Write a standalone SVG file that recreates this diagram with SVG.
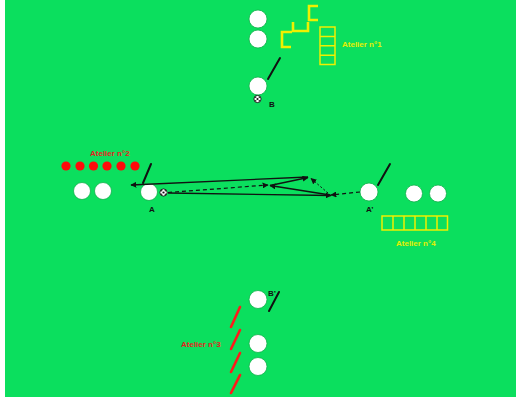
<svg xmlns="http://www.w3.org/2000/svg" width="516" height="399" viewBox="0 0 516 399">
<defs>
<style>
.bg{fill:#0bdf5e}
.pl{fill:#fff;stroke:#11b04a;stroke-width:0.8}
.pole{stroke:#111;stroke-width:2;stroke-linecap:round}
.ylw{fill:none;stroke:#f0f000;stroke-width:2.6}
.lad{fill:none;stroke:#f0f000;stroke-width:1.5}
.t{font-family:"Liberation Sans",Arial,sans-serif;font-weight:bold;font-size:8px}
.ty{fill:#e6ef00}
.tr{fill:#e41e1e}
.tk{fill:#111}
.rd{fill:#ff0a0a}
.rs{stroke:#ff1a1a;stroke-width:2.6;stroke-linecap:round}
.sol{stroke:#111;stroke-width:1.3;fill:none}
.dsh{stroke:#111;stroke-width:1.2;fill:none;stroke-dasharray:4 3}
.dot{stroke:#111;stroke-width:1;fill:none;stroke-dasharray:2 2}
</style>
<marker id="ah" viewBox="0 0 10 10" refX="9" refY="5" markerWidth="6" markerHeight="6" markerUnits="userSpaceOnUse" orient="auto">
<path d="M0,0 L10,5 L0,10 z" fill="#111"/>
</marker>
<g id="ballsym">
<circle r="3.6" fill="#fff" stroke="#111" stroke-width="0.9"/>
<circle r="1.1" fill="#111"/>
<circle cx="-1.8" cy="-1.8" r="0.7" fill="#111"/>
<circle cx="1.8" cy="-1.8" r="0.7" fill="#111"/>
<circle cx="-1.8" cy="1.8" r="0.7" fill="#111"/>
<circle cx="1.8" cy="1.8" r="0.7" fill="#111"/>
</g>
</defs>
<rect x="0" y="0" width="516" height="399" fill="#fff"/>
<rect class="bg" x="5" y="0" width="511" height="397"/>

<g id="atelier1">
<circle class="pl" cx="258" cy="19" r="9"/>
<circle class="pl" cx="258" cy="39" r="9"/>
<path class="ylw" d="M318,6 H309 V20 H318 M293,22 V31 H308 V22 M291,47 H282 V32 H292"/>
<rect class="lad" x="320" y="27" width="15" height="37.5"/>
<path class="lad" d="M320,36.4 H335 M320,45.8 H335 M320,55.2 H335"/>
<text class="t ty" x="342" y="47">Atelier n°1</text>
</g>

<g id="playerB">
<circle class="pl" cx="258" cy="86" r="9"/>
<line class="pole" x1="280" y1="58" x2="268" y2="79"/>
<use href="#ballsym" x="257.5" y="99"/>
<text class="t tk" x="269" y="107">B</text>
</g>

<g id="atelier2">
<text class="t tr" x="90" y="156">Atelier n°2</text>
<circle class="rd" cx="66" cy="166" r="4.6"/>
<circle class="rd" cx="80" cy="166" r="4.6"/>
<circle class="rd" cx="93.5" cy="166" r="4.6"/>
<circle class="rd" cx="107" cy="166" r="4.6"/>
<circle class="rd" cx="121" cy="166" r="4.6"/>
<circle class="rd" cx="135" cy="166" r="4.6"/>
<circle class="pl" cx="82" cy="191" r="8.5"/>
<circle class="pl" cx="103" cy="191" r="8.5"/>
</g>

<g id="playerA">
<circle class="pl" cx="149" cy="192" r="8.5"/>
<line class="pole" x1="151" y1="164" x2="143" y2="183"/>
<use href="#ballsym" x="163.5" y="192.5"/>
<text class="t tk" x="149" y="212">A</text>
</g>

<g id="playerA2">
<circle class="pl" cx="369" cy="192" r="9"/>
<line class="pole" x1="390" y1="164" x2="378" y2="185"/>
<text class="t tk" x="366" y="212">A’</text>
</g>

<g id="atelier4">
<circle class="pl" cx="414" cy="193.5" r="8.5"/>
<circle class="pl" cx="438" cy="193.5" r="8.5"/>
<rect class="lad" x="382" y="216" width="65.5" height="14"/>
<path class="lad" d="M393,216 V230 M404,216 V230 M415,216 V230 M426,216 V230 M437,216 V230"/>
<text class="t ty" x="396" y="246">Atelier n°4</text>
</g>

<g id="playerB2">
<circle class="pl" cx="258" cy="299.5" r="9"/>
<line class="pole" x1="279" y1="292" x2="269" y2="311"/>
<text class="t tk" x="268" y="296">B’</text>
</g>

<g id="atelier3">
<circle class="pl" cx="258" cy="343.5" r="9"/>
<circle class="pl" cx="258" cy="366.5" r="9"/>
<line class="rs" x1="240" y1="307" x2="231" y2="327"/>
<line class="rs" x1="240" y1="330" x2="231" y2="349"/>
<line class="rs" x1="240" y1="353" x2="231" y2="372"/>
<line class="rs" x1="240" y1="375" x2="231" y2="393"/>
<text class="t tr" x="181" y="347">Atelier n°3</text>
</g>

<g id="connectors">
<line class="sol" x1="308" y1="177" x2="131" y2="185" marker-end="url(#ah)"/>
<line class="dsh" x1="168" y1="192.5" x2="268" y2="185" marker-end="url(#ah)"/>
<line class="sol" x1="330" y1="195" x2="270" y2="185.5" marker-end="url(#ah)"/>
<line class="sol" x1="270" y1="185.5" x2="308" y2="177.5" marker-end="url(#ah)"/>
<line class="sol" x1="168" y1="193" x2="331" y2="195.5" marker-end="url(#ah)"/>
<line class="dot" x1="328" y1="193" x2="311" y2="178.5" marker-end="url(#ah)"/>
<line class="dsh" x1="360" y1="192" x2="331" y2="195" marker-end="url(#ah)"/>
</g>
</svg>
